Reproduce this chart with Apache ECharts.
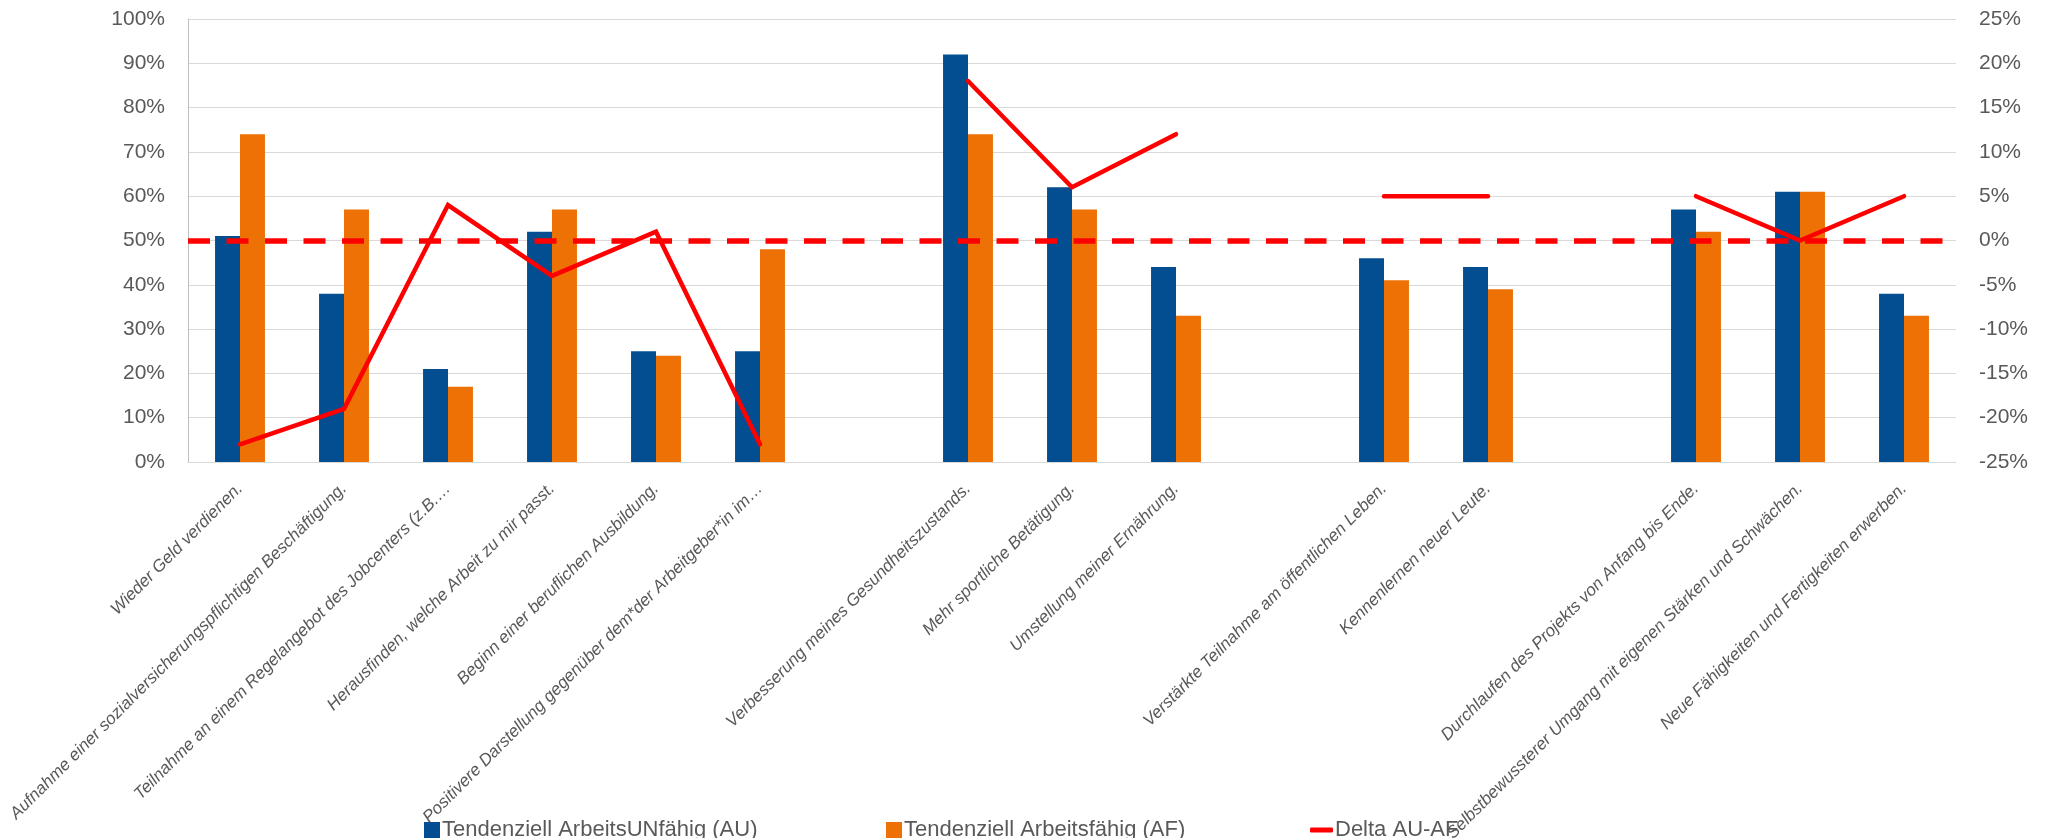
<!DOCTYPE html>
<html>
<head>
<meta charset="utf-8">
<title>Delta AU-AF</title>
<script src="https://cdn.jsdelivr.net/npm/echarts@6/dist/echarts.min.js"></script>
<style>
	html, body { margin: 0; padding: 0; background: #fff; }
	#chart { width: 2049px; height: 838px; }
</style>
</head>
<body>
<div id="chart"></div>
<script>
// categories (empty ones are the gaps between the groups)
var categories = [
	'Wieder Geld verdienen.',
	'Aufnahme einer sozialversicherungspflichtigen Beschäftigung.',
	'Teilnahme an einem Regelangebot des Jobcenters (z.B.…',
	'Herausfinden, welche Arbeit zu mir passt.',
	'Beginn einer beruflichen Ausbildung.',
	'Positivere Darstellung gegenüber dem*der Arbeitgeber*in im…',
	'',
	'Verbesserung meines Gesundheitszustands.',
	'Mehr sportliche Betätigung.',
	'Umstellung meiner Ernährung.',
	' ',
	'Verstärkte Teilnahme am öffentlichen Leben.',
	'Kennenlernen neuer Leute.',
	'  ',
	'Durchlaufen des Projekts von Anfang bis Ende.',
	'Selbstbewussterer Umgang mit eigenen Stärken und Schwächen.',
	'Neue Fähigkeiten und Fertigkeiten erwerben.'
];
// values in %
var valuesAU = [51, 38, 21, 52, 25, 25, null, 92, 62, 44, null, 46, 44, null, 57, 61, 38];
var valuesAF = [74, 57, 17, 57, 24, 48, null, 74, 57, 33, null, 41, 39, null, 52, 61, 33];
var valuesDelta = [-23, -19, 4, -4, 1, -23, null, 18, 6, 12, null, 5, 5, null, 5, 0, 5];
var seriesNames = ['Tendenziell ArbeitsUNfähig (AU)', 'Tendenziell Arbeitsfähig (AF)', 'Delta AU-AF'];

var font = "'Liberation Sans', Arial, sans-serif";
var gray = '#595959';

var myChart = echarts.init(document.getElementById('chart'));

// one legend per item so each sits where the reference has it
var legendItem = function(left, name, w, h, extra) {
	var item = { name: name };
	for (var k in extra) item[k] = extra[k];
	return {
		left: left,
		top: 814,
		itemWidth: w,
		itemHeight: h,
		itemGap: 0,
		textStyle: { color: gray, fontSize: 22, fontFamily: font, padding: [0, 0, 0, -3] },
		data: [ item ]
	};
};

var option = {
	animation: false,
	backgroundColor: '#fff',
	grid: { left: 188, right: 93, top: 19, bottom: 376, containLabel: false, outerBoundsMode: 'none' },
	legend: [
		legendItem(419, seriesNames[0], 16, 16, { icon: 'rect' }),
		legendItem(881, seriesNames[1], 16, 16, { icon: 'rect' }),
		legendItem(1305, seriesNames[2], 23, 5, { icon: 'roundRect', itemStyle: { color: '#ff0000', borderWidth: 0 } })
	],
	xAxis: {
		type: 'category',
		data: categories,
		boundaryGap: true,
		axisLine: { lineStyle: { color: '#d9d9d9', width: 1 } },
		axisTick: { show: false },
		axisLabel: {
			interval: 0,
			rotate: 45,
			margin: 24,
			color: gray,
			fontSize: 17,
			fontStyle: 'italic',
			fontFamily: font
		}
	},
	yAxis: [ {
		type: 'value',
		min: 0,
		max: 100,
		interval: 10,
		axisLine: { show: true, lineStyle: { color: '#bfbfbf', width: 1 } },
		axisTick: { show: false },
		splitLine: { lineStyle: { color: '#d9d9d9', width: 1 } },
		axisLabel: { formatter: '{value}%', color: gray, fontSize: 21, fontFamily: font, margin: 23 }
	}, {
		type: 'value',
		min: -25,
		max: 25,
		interval: 5,
		axisLine: { show: false },
		axisTick: { show: false },
		splitLine: { show: false },
		axisLabel: { formatter: '{value}%', color: gray, fontSize: 21, fontFamily: font, margin: 23 }
	} ],
	series: [ {
		name: seriesNames[0],
		type: 'bar',
		data: valuesAU,
		barGap: 0,
		barCategoryGap: '52%',
		itemStyle: { color: '#034e91' }
	}, {
		name: seriesNames[1],
		type: 'bar',
		data: valuesAF,
		itemStyle: { color: '#ed7104' }
	}, {
		name: seriesNames[2],
		type: 'line',
		yAxisIndex: 1,
		data: valuesDelta,
		showSymbol: false,
		symbol: 'none',
		connectNulls: false,
		lineStyle: { color: '#ff0000', width: 4.5, cap: 'round', join: 'miter' },
		itemStyle: { color: '#ff0000' },
		// dashed zero line
		markLine: {
			silent: true,
			symbol: 'none',
			label: { show: false },
			lineStyle: { color: '#ff0000', width: 5.5, type: [22, 16.5], cap: 'butt' },
			data: [ { yAxis: 0 } ]
		}
	} ]
};
myChart.setOption(option);
</script>
</body>
</html>
